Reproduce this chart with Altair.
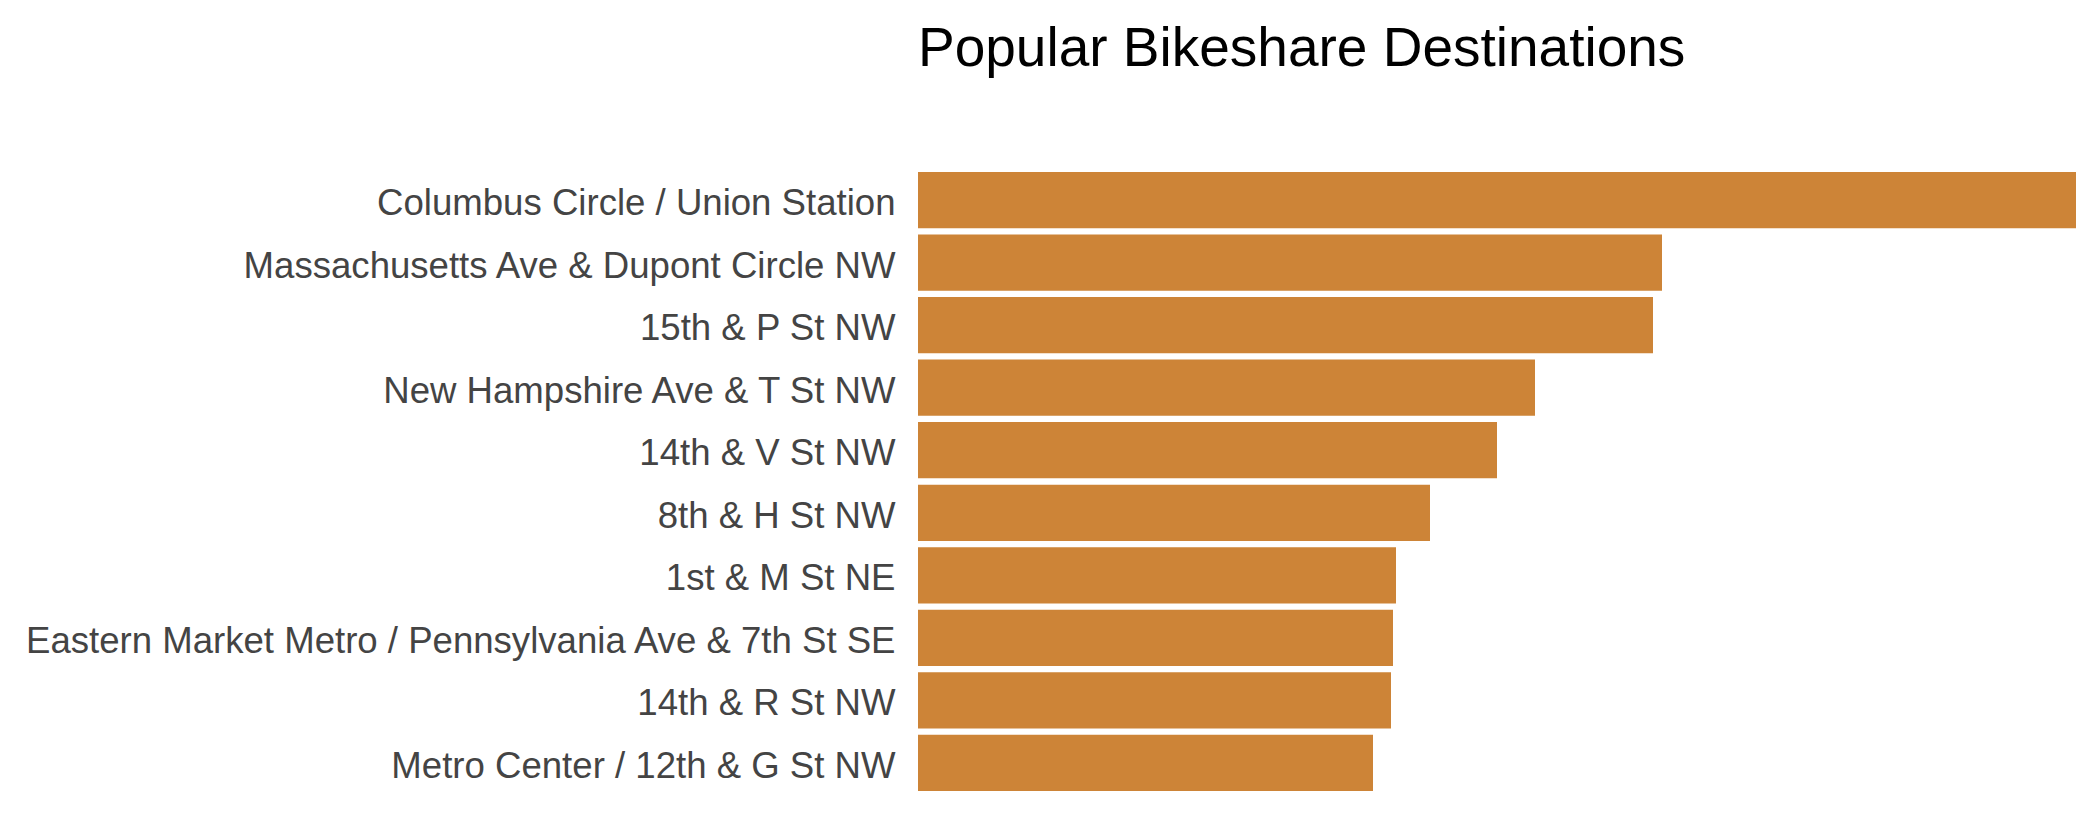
import altair as alt
import pandas as pd

stations = [
    "Columbus Circle / Union Station",
    "Massachusetts Ave & Dupont Circle NW",
    "15th & P St NW",
    "New Hampshire Ave & T St NW",
    "14th & V St NW",
    "8th & H St NW",
    "1st & M St NE",
    "Eastern Market Metro / Pennsylvania Ave & 7th St SE",
    "14th & R St NW",
    "Metro Center / 12th & G St NW",
]
trips = [1158, 744, 735, 617, 579, 512, 478, 475, 473, 455]

df = pd.DataFrame({"station": stations, "trips": trips})

chart = (
    alt.Chart(df)
    .mark_bar(color="#CD8437")
    .encode(
        y=alt.Y(
            "station:N",
            sort=stations,
            scale=alt.Scale(paddingInner=0.1, paddingOuter=0),
            axis=alt.Axis(
                title=None,
                domain=False,
                ticks=False,
                labelFontSize=36.6,
                labelFont="Liberation Sans",
                labelColor="#444444",
                labelPadding=23,
                labelLimit=2000,
                labelOffset=4,
            ),
        ),
        x=alt.X(
            "trips:Q",
            scale=alt.Scale(domain=[0, 1158], nice=False, zero=True),
            axis=None,
        ),
    )
    .properties(
        width=1158,
        height=619,
        padding={"left": 910, "top": 164, "right": 16, "bottom": 20},
        autosize=alt.AutoSizeParams(type="none"),
        title=alt.TitleParams(
            "Popular Bikeshare Destinations",
            anchor="start",
            frame="group",
            fontSize=55,
            font="Liberation Sans",
            fontWeight="normal",
            color="#000000",
            baseline="alphabetic",
            offset=51,
        ),
    )
    .configure_view(stroke=None)
    .configure_axis(grid=False)
)

chart.save("out.html", embed_options={"renderer": "svg", "actions": False})
